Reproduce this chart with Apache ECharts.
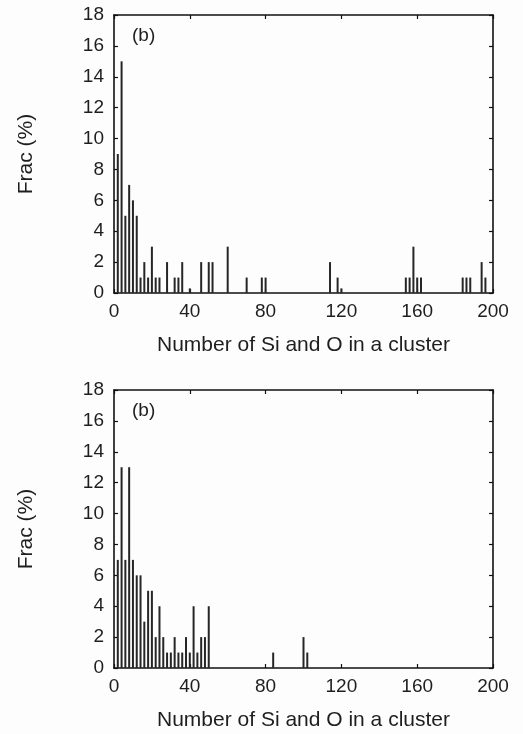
<!DOCTYPE html>
<html>
<head>
<meta charset="utf-8">
<script src="https://cdn.jsdelivr.net/npm/echarts@6/dist/echarts.min.js"></script>
<style>
html,body{margin:0;padding:0;background:#fdfdfd;}
#chart{width:523px;height:734px;}
</style>
</head>
<body>
<div id="chart"></div>
<script>
// Cluster-size distributions: number of Si and O atoms per cluster vs. fraction (%)
const xTicks = [0, 40, 80, 120, 160, 200];
const yTicks = [0, 2, 4, 6, 8, 10, 12, 14, 16, 18];

// upper panel
const sizesA = [2, 4, 6, 8, 10, 12, 14, 16, 18, 20, 22, 24, 28, 32, 34, 36, 40, 46, 50, 52, 60, 70, 78, 80, 114, 118, 120, 154, 156, 158, 160, 162, 184, 186, 188, 194, 196];
const fracA  = [9, 15, 5, 7, 6, 5, 1, 2, 1, 3, 1, 1, 2, 1, 1, 2, 0.3, 2, 2, 2, 3, 1, 1, 1, 2, 1, 0.3, 1, 1, 3, 1, 1, 1, 1, 1, 2, 1];

// lower panel
const sizesB = [2, 4, 6, 8, 10, 12, 14, 16, 18, 20, 22, 24, 26, 28, 30, 32, 34, 36, 38, 40, 42, 44, 46, 48, 50, 84, 100, 102];
const fracB  = [7, 13, 7, 13, 7, 6, 6, 3, 5, 5, 2, 4, 2, 1, 1, 2, 1, 1, 2, 1, 4, 1, 2, 2, 4, 1, 2, 1];

const textColor = '#1e1e1e';
const font = 'Liberation Sans, Arial, sans-serif';
const xMin = xTicks[0], xMax = xTicks[xTicks.length - 1], xStep = xTicks[1] - xTicks[0];
const yMin = yTicks[0], yMax = yTicks[yTicks.length - 1], yStep = yTicks[1] - yTicks[0];

function pairs(xs, ys) { return xs.map((x, i) => [x, ys[i]]); }

const gridTops = [15, 390];
const plotH = 278;

const grids = gridTops.map(t => ({ left: 114, right: 30, top: t, height: plotH }));

const lineStyle = { color: '#111', width: 1.6 };
const tickStyle = { show: true, inside: true, length: 4, lineStyle: { color: '#111', width: 1.2 } };

const xAxes = [];
const yAxes = [];
gridTops.forEach((t, g) => {
  // bottom axis with labels
  xAxes.push({
    type: 'value', gridIndex: g, min: xMin, max: xMax, interval: xStep,
    name: 'Number of Si and O in a cluster', nameLocation: 'middle', nameGap: 42,
    nameTextStyle: { fontFamily: font, fontSize: 21, color: textColor },
    axisLine: { show: true, onZero: false, lineStyle },
    axisTick: tickStyle,
    axisLabel: { fontFamily: font, fontSize: 19, color: textColor, margin: 9 },
    splitLine: { show: false }
  });
  // mirrored top axis
  xAxes.push({
    type: 'value', gridIndex: g, position: 'top', min: xMin, max: xMax, interval: xStep,
    axisLine: { show: true, onZero: false, lineStyle },
    axisTick: tickStyle,
    axisLabel: { show: false }, splitLine: { show: false }
  });
  yAxes.push({
    type: 'value', gridIndex: g, min: yMin, max: yMax, interval: yStep,
    name: 'Frac (%)', nameLocation: 'middle', nameGap: 77,
    nameTextStyle: { fontFamily: font, fontSize: 21, color: textColor },
    axisLine: { show: true, onZero: false, lineStyle },
    axisTick: tickStyle,
    axisLabel: { fontFamily: font, fontSize: 19, color: textColor, margin: 10 },
    splitLine: { show: false }
  });
  // mirrored right axis
  yAxes.push({
    type: 'value', gridIndex: g, position: 'right', min: yMin, max: yMax, interval: yStep,
    axisLine: { show: true, onZero: false, lineStyle },
    axisTick: tickStyle,
    axisLabel: { show: false }, splitLine: { show: false }
  });
});

const barStyle = { color: '#262626' };

const option = {
  backgroundColor: '#fdfdfd',
  animation: false,
  grid: grids,
  xAxis: xAxes,
  yAxis: yAxes,
  series: [
    { type: 'bar', xAxisIndex: 0, yAxisIndex: 0, barWidth: 2, itemStyle: barStyle, data: pairs(sizesA, fracA) },
    { type: 'bar', xAxisIndex: 2, yAxisIndex: 2, barWidth: 2, itemStyle: barStyle, data: pairs(sizesB, fracB) }
  ],
  graphic: gridTops.map(t => ({
    type: 'text', left: 132, top: t + 11,
    style: { text: '(b)', fontFamily: font, fontSize: 19, fill: textColor }
  }))
};

const chart = echarts.init(document.getElementById('chart'), null, { renderer: 'canvas' });
chart.setOption(option);
</script>
</body>
</html>
